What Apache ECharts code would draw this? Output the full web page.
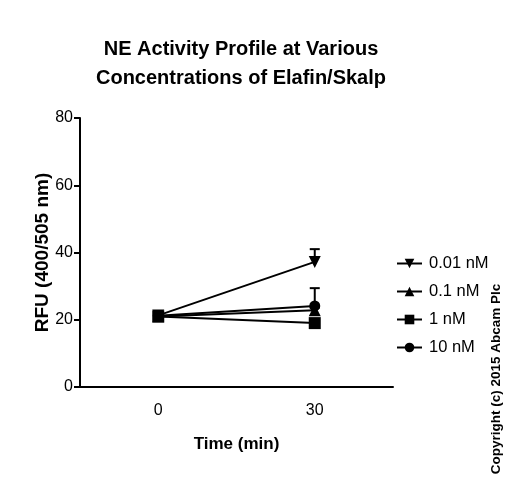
<!DOCTYPE html>
<html><head><meta charset="utf-8">
<script src="https://cdn.jsdelivr.net/npm/echarts@6/dist/echarts.min.js"></script>
<style>html,body{margin:0;padding:0;background:#fff}#c{width:505px;height:479px}</style>
</head><body><div id="c"></div>
<script>
var categories = ['0', '30'];
var seriesNames = ['0.01 nM', '0.1 nM', '1 nM', '10 nM'];
var v001 = [21.3, 37.2];
var v01 = [21.0, 22.8];
var v1 = [21.0, 19.0];
var v10 = [21.2, 24.1];
var err001 = [0.8, 3.8];
var err01 = [0.6, 0.8];
var err1 = [0.6, 0.5];
var err10 = [0.8, 5.3];
var yTicks = [0, 20, 40, 60, 80];

var chart = echarts.init(document.getElementById('c'), null, {renderer: 'canvas'});
var FONT = 'Liberation Sans, Arial, sans-serif';
var triDown = 'path://M0,0 L10,0 L5,10 Z';
var symbols = [triDown, 'triangle', 'rect', 'circle'];
var values = [v001, v01, v1, v10];
var errs = [err001, err01, err1, err10];

var series = [];
values.forEach(function (vals, i) {
  series.push({
    name: seriesNames[i], type: 'line', data: vals,
    symbol: symbols[i], symbolSize: i === 3 ? 11 : 12,
    lineStyle: {color: '#000', width: 2},
    itemStyle: {color: '#000'}, z: 3
  });
  series.push({
    name: seriesNames[i], type: 'custom', z: 2,
    data: vals.map(function (v, j) { return [j, v, v + errs[i][j]]; }),
    renderItem: function (params, api) {
      var p0 = api.coord([api.value(0), api.value(1)]);
      var p1 = api.coord([api.value(0), api.value(2)]);
      var style = {stroke: '#000', lineWidth: 2};
      return {type: 'group', children: [
        {type: 'line', shape: {x1: p0[0], y1: p0[1], x2: p1[0], y2: p1[1]}, style: style},
        {type: 'line', shape: {x1: p1[0] - 5, y1: p1[1], x2: p1[0] + 5, y2: p1[1]}, style: style}
      ]};
    }
  });
});

chart.setOption({
  animation: false,
  backgroundColor: '#fff',
  title: {
    text: 'NE Activity Profile at Various\nConcentrations of Elafin/Skalp',
    left: 236, top: 30, textAlign: 'center',
    textStyle: {fontFamily: FONT, fontSize: 20, fontWeight: 'bold', color: '#000', lineHeight: 29}
  },
  legend: {
    orient: 'vertical', left: 391, top: 250, itemGap: 11,
    itemWidth: 25, itemHeight: 12,
    data: seriesNames,
    textStyle: {fontFamily: FONT, fontSize: 16.5, color: '#000', padding: [0, 0, 0, 2]}
  },
  grid: {left: 80, right: 112, top: 118, bottom: 92},
  xAxis: {
    type: 'category', data: categories, boundaryGap: true,
    name: 'Time (min)', nameLocation: 'middle', nameGap: 49, nameMoveOverlap: false,
    nameTextStyle: {fontFamily: FONT, fontSize: 17, fontWeight: 'bold', color: '#000'},
    axisLine: {lineStyle: {color: '#000', width: 2}},
    axisTick: {alignWithLabel: true, length: 6, lineStyle: {color: '#000', width: 2}},
    axisLabel: {fontFamily: FONT, fontSize: 16, color: '#000', margin: 16}
  },
  yAxis: {
    type: 'value', min: 0, max: 80, interval: 20,
    name: 'RFU (400/505 nm)', nameLocation: 'middle', nameGap: 28, nameMoveOverlap: false,
    nameTextStyle: {fontFamily: FONT, fontSize: 19, fontWeight: 'bold', color: '#000'},
    axisLine: {show: true, lineStyle: {color: '#000', width: 2}},
    axisTick: {show: true, length: 6, lineStyle: {color: '#000', width: 2}},
    axisLabel: {fontFamily: FONT, fontSize: 16, color: '#000', margin: 7},
    splitLine: {show: false}
  },
  graphic: [{
    type: 'text', x: 496, y: 379, rotation: Math.PI / 2,
    style: {text: 'Copyright (c) 2015 Abcam Plc', fontFamily: FONT, fontSize: 13.5, fontWeight: 'bold',
      fill: '#000', align: 'center', verticalAlign: 'middle'}
  }],
  series: series
});
</script></body></html>
